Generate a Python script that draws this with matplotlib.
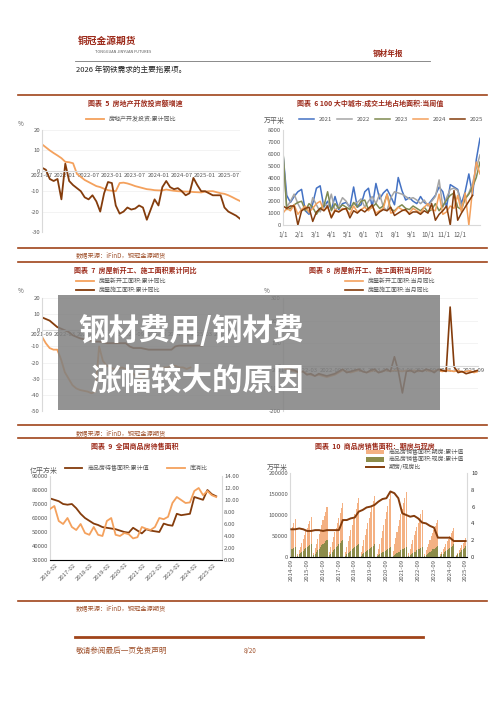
import numpy as np
import pandas as pd
import matplotlib
matplotlib.use('Agg')
import matplotlib.pyplot as plt
from matplotlib.patches import Rectangle

plt.rcParams['font.family'] = ['Noto Sans CJK SC', 'DejaVu Sans']
plt.rcParams['axes.unicode_minus'] = False

DARK = '#843C0C'
ORANGE = '#F4A15D'
BROWN = '#A0441A'
TICK = '#595959'

# ---- 图表5 房地产开发投资 (2021-07 起, 月度) ----
inv_cum = [13, 11.5, 10, 8.7, 7.5, 6.2, 4.4, 4.2, 3.7, -1.5, -3, -4.5, -5.5, -6.5, -7.5, -8,
           -8.8, -9.5, -9.8, -10, -6, -5.8, -6.2, -6.8, -7.5, -8, -8.5, -9, -9.2, -9.5, -9.6,
           -9.6, -9.2, -9.5, -9.8, -10, -10.1, -10.2, -10.2, -10.4, -10.5, -10.6, -10.2, -10,
           -10, -10.5, -11, -11.3, -12, -12.9, -13.9, -14.8]
inv_month = [1.5, 0.5, -4, -5, -4, -14, 3.5, -5, -7, -8.5, -10, -13, -14, -12, -15, -20, -11,
             -5.5, -6, -17, -21, -20, -18, -19, -18.5, -17, -18, -24, -19, -14, -17, -8, -5, -8,
             -9, -8.5, -10, -12, -11, -3.5, -7, -10, -10, -11, -12, -12, -12, -18, -20, -21,
             -22, -23.5]

# ---- 图表6 100大中城市成交土地占地面积 (周度) ----
land_years = ['2021', '2022', '2023', '2024', '2025']
land_colors = ['#4472C4', '#A5A5A5', '#7F8A50', ORANGE, DARK]
land_2021 = [6000, 2500, 1900, 2400, 2800, 3000, 1200, 900, 1800, 3100, 3300, 1500, 2000, 1300,
             2400, 1300, 1800, 1900, 1500, 3200, 1500, 1700, 2800, 3100, 1500, 3500, 2200, 2700,
             3000, 2400, 1700, 4000, 2900, 2100, 2300, 2000, 1800, 2400, 1900, 1700, 2100, 2500,
             3200, 2800, 1500, 3400, 3200, 3000, 1800, 2800, 4300, 2500, 5500, 7300]
land_2022 = [6100, 1500, 2000, 2600, 1800, 1200, 1500, 1000, 2300, 1700, 1100, 1900, 1500, 2600,
             1200, 1600, 2300, 2000, 1400, 1800, 1900, 2200, 1500, 2000, 2400, 1800, 2600, 1500,
             1200, 2300, 2800, 2700, 2600, 2400, 2200, 2300, 2100, 1800, 2100, 1600, 2000, 2400,
             3800, 1500, 2300, 3000, 3100, 2900, 1600, 2200, 2700, 3500, 4800, 5900]
land_2023 = [6200, 1300, 1400, 1700, 1900, 2000, 1200, 1800, 1500, 900, 1400, 1600, 2800, 1200,
             1800, 1400, 1700, 1500, 1300, 1900, 1500, 2000, 2100, 1300, 1500, 1800, 1400, 1600,
             2600, 1300, 1200, 1500, 1700, 1400, 1300, 1600, 1400, 1200, 1500, 1100, 1300, 1800,
             1200, 1600, 2100, 2500, 2700, 1500, 1300, 2200, 2600, 3200, 4000, 5300]
land_2024 = [1000, 1400, 1200, 1700, 900, 1300, 1600, 1100, 1400, 1800, 2000, 1200, 1500, 700,
             1300, 1100, 1400, 1300, 900, 1600, 1100, 1300, 1500, 1200, 1600, 1000, 1200, 1400,
             2600, 1000, 1100, 1500, 1300, 1200, 1000, 1400, 1200, 1000, 1500, 1800, 1300, 1200,
             2600, 900, 1100, 1600, 1400, 2500, 1100, 2700, 0, 3000, 5300, 4300]
land_2025 = [1600, 1400, 1600, 1600, 0, 1200, 1400, 1500, 300, 1100, 1400, 1200, 1600, 600, 1200,
             1100, 1300, 1400, 600, 1200, 1000, 1300, 1100, 1400, 1700, 800, 1100, 1300, 1200, 1500,
             800, 1000, 1200, 1300, 900, 1100, 1100, 900, 1200, 1000, 1800, 400, 900, 1200, 1600,
             0, 2900, 400, 1000, 1500, 2000, 2500]

# ---- 图表7 累计同比 (2021-09 起) ----
start_cum = [-4, -8, -11, -12, -12, -18, -26, -30, -34, -36, -37, -37.5, -38, -39, -38, -10,
             -19, -22, -23, -24, -24, -23, -24, -25, -27, -29, -30, -26, -24, -24, -23, -24, -23,
             -23, -22, -22, -23, -23, -24, -23]
constr_cum = [8, 7, 6, 4, 2, 1, 0, -1, -3, -4, -5, -5.5, -6, -6.5, -7, -7, -7.5, -8, -8, -8, -8,
              -8, -8, -10, -11, -11, -11, -11.5, -12, -12, -12, -12, -12, -12, -12, -10, -9.5,
              -9.5, -9.5, -9.5, -9.5, -9.5, -9.5]

# ---- 图表8 当月同比 (2021-09 起) ----
start_mon = [-10, -15, -20, -25, -30, -25, -35, -40, -45, -40, -45, -50, -45, -40, -30, -20, -25,
             -30, -25, -20, -25, -30, -25, -20, -30, -25, -20, -25, -20, -22, -25, -20, -25, -20,
             -25, -22, -20, -25, -22, -20, -25, -20, -22, -25, -20, -28, -25, -22, -30, -25]
constr_mon = [-5, -10, -15, -20, -30, -25, -40, -35, -45, -35, -40, -45, -40, -35, -25, -15, -30,
              -25, -20, -15, -25, -30, -20, -15, -30, -25, -15, -25, 40, -25, -120, -25, -20,
              -30, -20, -25, -15, -20, -30, -15, -20, -25, 260, -5, -30, -25, -35, -30, -25, -20]

# ---- 图表9 待售面积 (2016-02 起, 季度) ----
unsold = [74000, 73000, 72000, 70000, 69500, 70000, 67000, 63000, 60000, 58000, 56000, 55000,
          53500, 53000, 52500, 52000, 51000, 50000, 49500, 53000, 51000, 49000, 52000, 51000,
          50500, 50000, 56000, 55000, 54500, 63000, 62000, 62500, 63000, 75000, 74000, 73000,
          80000, 77000, 75500]
stock_ratio = [8.5, 9.0, 6.5, 6.0, 7.0, 5.5, 5.0, 6.0, 4.5, 4.2, 5.5, 4.2, 4.0, 6.5, 7.0, 4.2,
               4.0, 4.5, 4.3, 3.6, 3.8, 5.5, 5.2, 5.0, 5.5, 7.0, 6.8, 7.2, 9.5, 10.5, 10.0, 9.5,
               9.6, 11.5, 12.0, 10.8, 11.5, 10.8, 10.5]

# ---- 图表10 销售面积 期房/现房 (千 万平米, 2014-09 起; 每年2月起累计) ----
presale_k = [65, 72, 80, 90,
             8, 17, 25, 34, 44, 52, 61, 70, 78, 86, 95,
             10, 21, 32, 43, 55, 65, 76, 87, 97, 107, 118,
             11, 23, 35, 47, 59, 70, 82, 93, 105, 116, 128,
             12, 25, 38, 51, 64, 77, 90, 102, 115, 128, 141,
             13, 26, 40, 53, 67, 80, 93, 106, 120, 133, 146,
             8, 18, 32, 46, 61, 76, 91, 106, 121, 137, 153,
             15, 30, 45, 60, 75, 89, 102, 115, 128, 141, 155,
             9, 20, 30, 41, 52, 62, 72, 82, 92, 102, 112,
             8, 16, 24, 32, 41, 49, 57, 65, 73, 80, 88,
             6, 12, 18, 25, 31, 38, 44, 50, 56, 62, 68,
             5, 10, 16, 22, 28, 34, 39, 45]
ready_k = [18, 20, 22, 25,
           3, 6, 9, 12, 15, 18, 21, 24, 27, 29, 32,
           4, 8, 12, 16, 20, 24, 28, 31, 34, 37, 40,
           4, 8, 12, 16, 20, 24, 27, 31, 34, 37, 40,
           3, 6, 9, 12, 15, 18, 21, 24, 27, 29, 32,
           3, 6, 9, 11, 14, 17, 20, 22, 25, 27, 30,
           2, 4, 7, 9, 11, 13, 15, 17, 20, 22, 25,
           2, 4, 7, 9, 11, 13, 16, 18, 20, 22, 25,
           2, 4, 7, 9, 11, 13, 16, 18, 20, 22, 25,
           2, 5, 8, 10, 13, 15, 18, 20, 22, 25, 27,
           3, 6, 8, 11, 14, 17, 19, 22, 25, 27, 30,
           3, 6, 9, 13, 16, 19, 22, 26]
ps_ratio = [3.3, 3.3, 3.4, 3.3, 3.1, 3.1, 3.2, 3.2, 3.1, 3.2, 3.2, 3.2, 3.2, 4.4, 4.4, 4.6, 4.7,
            5.4, 5.6, 5.9, 6.0, 6.2, 6.6, 6.9, 7.0, 7.8, 7.6, 7.0, 5.2, 5.0, 4.8, 4.9, 4.6, 4.1,
            4.0, 3.7, 3.5, 2.3, 2.3, 2.3, 2.3, 1.9, 1.9, 1.9, 1.9]

W, H = 500, 706
fig = plt.figure(figsize=(5, 7.06), dpi=100)


def px_ax(x0, y0, x1, y1):
    return fig.add_axes([x0 / W, 1 - y1 / H, (x1 - x0) / W, (y1 - y0) / H])


def ftext(x, y, s, **kw):
    fig.text(x / W, 1 - y / H, s, **kw)


def hline(y, x0, x1, lw=1.2, color=BROWN):
    fig.add_artist(plt.Line2D([x0 / W, x1 / W], [1 - y / H, 1 - y / H], color=color, lw=lw))


def style(ax, grid=True):
    for s in ['top', 'right']:
        ax.spines[s].set_visible(False)
    ax.spines['left'].set_color('#D9D9D9')
    ax.spines['bottom'].set_color('#D9D9D9')
    ax.tick_params(labelsize=4.3, colors=TICK, length=0, pad=1.5)
    if grid:
        ax.grid(axis='y', color='#EFEFEF', lw=0.5)
    ax.set_axisbelow(True)


def month_axis(ax, start, n, step, rot=45):
    idx = pd.date_range(start, periods=n, freq='MS')
    pos = np.arange(0, n, step)
    ax.set_xticks(pos)
    ax.set_xticklabels([idx[p].strftime('%Y-%m') for p in pos], rotation=rot, fontsize=4.3)


# header
ftext(78, 44, '铜冠金源期货', fontsize=7, color='#9C2A1A', fontweight='bold')
ftext(95, 53, 'TONGGUAN JINYUAN FUTURES', fontsize=2.8, color='#555555')
ftext(373, 56, '钢材年报', fontsize=5.5, color='#9C2A1A', fontweight='bold')
hline(61, 75, 430, lw=0.6, color='#777777')
ftext(76, 72, '2026 年钢铁需求的主要拖累项。', fontsize=5.5, color='#222222')

for y in [95, 248, 262, 425, 438, 601]:
    hline(y, 18, 487)
for y in [254, 432, 607]:
    ftext(76, y + 3, '数据来源：iFinD，铜冠金源期货', fontsize=4.5, color='#A0522D')
hline(637, 75, 423, lw=2)
ftext(76, 653, '敬请参阅最后一页免责声明', fontsize=5.5, color='#A0522D', style='italic')
ftext(244, 653, '8/20', fontsize=4.5, color='#A0522D')

tkw = dict(fontsize=5, color='#9C2A1A', fontweight='bold', ha='center')
ftext(135, 106, '图表  5  房地产开放投资额增速', **tkw)
ftext(370, 106, '图表  6 100 大中城市:成交土地占地面积:当周值', **tkw)
ftext(135, 273, '图表  7  房屋新开工、施工面积累计同比', **tkw)
ftext(370, 273, '图表  8  房屋新开工、施工面积当月同比', **tkw)
ftext(135, 449, '图表  9  全国商品房待售面积', **tkw)
ftext(375, 449, '图表  10  商品房销售面积：期房与现房', **tkw)

# chart 5
ax = px_ax(42, 130, 240, 232)
style(ax)
ax.plot(inv_cum, color=ORANGE, lw=1.3, label='房地产开发投资:累计同比')
ax.plot(inv_month, color=DARK, lw=1.3)
ax.set_ylim(-30, 20)
ax.set_yticks(range(-30, 21, 10))
ax.set_xlim(0, len(inv_cum) - 1)
month_axis(ax, '2021-07', len(inv_cum), 6)
ax.spines['bottom'].set_position(('data', 0))
ax.legend(loc='lower center', bbox_to_anchor=(0.45, 1.02), fontsize=4.3, frameon=False,
          handlelength=3, labelcolor=TICK)
ax.text(-0.12, 1.04, '%', transform=ax.transAxes, fontsize=4.5, color=TICK)

# chart 6
ax = px_ax(283, 130, 480, 225)
style(ax, grid=False)
for name, vals, c in zip(land_years, [land_2021, land_2022, land_2023, land_2024, land_2025],
                         land_colors):
    ax.plot(vals, color=c, lw=1.1, label=name)
ax.set_ylim(0, 8000)
ax.set_yticks(range(0, 8001, 1000))
ax.set_xlim(0, 53)
ax.set_xticks(np.arange(12) * 52 / 12)
ax.set_xticklabels([f'{m}/1' for m in range(1, 13)], fontsize=4.5)
ax.tick_params(axis='x', pad=4)
ax.legend(loc='lower center', bbox_to_anchor=(0.55, 1.03), ncol=5, fontsize=4.3, frameon=False,
          handlelength=2.5, columnspacing=0.8, labelcolor=TICK)
ax.text(-0.1, 1.07, '万平米', transform=ax.transAxes, fontsize=5, color=TICK)

# chart 7
ax = px_ax(42, 298, 240, 411)
style(ax)
ax.plot(start_cum, color=ORANGE, lw=1.3, label='房屋新开工面积:累计同比')
ax.plot(constr_cum, color=DARK, lw=1.3, label='房屋施工面积:累计同比')
ax.set_ylim(-50, 20)
ax.set_yticks(range(-50, 21, 10))
ax.set_xlim(0, 52)
month_axis(ax, '2021-09', 53, 6)
ax.spines['bottom'].set_position(('data', 0))
ax.legend(loc='lower center', bbox_to_anchor=(0.4, 1.0), fontsize=4.3, frameon=False,
          handlelength=3, labelcolor=TICK)
ax.text(-0.12, 1.04, '%', transform=ax.transAxes, fontsize=4.5, color=TICK)

# chart 8
ax = px_ax(283, 298, 478, 411)
style(ax)
ax.plot(start_mon, color=ORANGE, lw=1.2, label='房屋新开工面积:当月同比')
ax.plot(constr_mon, color=DARK, lw=1.2, label='房屋施工面积:当月同比')
ax.set_ylim(-200, 300)
ax.set_yticks(range(-200, 301, 100))
ax.set_xlim(0, len(start_mon) - 1)
month_axis(ax, '2021-09', len(start_mon), 6)
ax.spines['bottom'].set_position(('data', 0))
ax.legend(loc='lower center', bbox_to_anchor=(0.55, 1.0), fontsize=4.3, frameon=False,
          handlelength=3, labelcolor=TICK)
ax.text(-0.1, 1.04, '%', transform=ax.transAxes, fontsize=4.5, color=TICK)

# chart 9
ax = px_ax(50, 476, 222, 560)
style(ax, grid=False)
q9 = pd.date_range('2016-02', periods=len(unsold), freq='3MS')
x9 = np.arange(len(unsold)) * 3
ax.plot(x9, unsold, color=DARK, lw=1.3, label='商品房待售面积:累计值')
ax.set_ylim(30000, 90000)
ax.set_yticks(range(30000, 90001, 10000))
ax.set_xlim(0, 118)
month_axis(ax, '2016-02', 118, 12)
ax2 = ax.twinx()
ax2.plot(np.arange(len(stock_ratio)) * 3, stock_ratio, color=ORANGE, lw=1.3, label='库消比')
ax2.set_ylim(0, 14)
ax2.set_yticks(range(0, 15, 2))
ax2.set_yticklabels([f'{v:.2f}' for v in range(0, 15, 2)])
for s in ['top', 'left']:
    ax2.spines[s].set_visible(False)
ax2.spines['right'].set_color('#D9D9D9')
ax2.tick_params(labelsize=4.3, colors=TICK, length=0, pad=1.5)
h1, l1 = ax.get_legend_handles_labels()
h2, l2 = ax2.get_legend_handles_labels()
ax.legend(h1 + h2, l1 + l2, loc='lower center', bbox_to_anchor=(0.5, 0.99), ncol=2,
          fontsize=4.3, frameon=False, handlelength=3, columnspacing=3, labelcolor=TICK)
ax.text(-0.12, 1.03, '亿平方米', transform=ax.transAxes, fontsize=5, color=TICK)

# chart 10
ax = px_ax(290, 473, 467, 557)
style(ax, grid=False)
pos10 = []
for yr in range(2014, 2026):
    months = range(9, 13) if yr == 2014 else (range(2, 10) if yr == 2025 else range(2, 13))
    for m in months:
        pos10.append((yr - 2014) * 12 + m - 9)
pos10 = np.array(pos10)
ax.bar(pos10, np.array(presale_k) * 1000, width=0.8, color='#F4B183', label='商品房销售面积:期房:累计值')
ax.bar(pos10, np.array(ready_k) * 1000, width=0.8, color='#8C8C4A', label='商品房销售面积:现房:累计值')
ax.set_ylim(0, 200000)
ax.set_yticks(range(0, 200001, 50000))
ax.set_xlim(-1, 133)
month_axis(ax, '2014-09', 133, 12, rot=90)
ax2 = ax.twinx()
ax2.plot(np.arange(len(ps_ratio)) * 3, ps_ratio, color=DARK, lw=1.4, label='期房/现房比')
ax2.set_ylim(0, 10)
ax2.set_yticks(range(0, 11, 2))
for s in ['top', 'left']:
    ax2.spines[s].set_visible(False)
ax2.spines['right'].set_color('#D9D9D9')
ax2.tick_params(labelsize=4.3, colors='#333333', length=0, pad=3)
h1, l1 = ax.get_legend_handles_labels()
h2, l2 = ax2.get_legend_handles_labels()
ax.legend(h1 + h2, l1 + l2, loc='lower left', bbox_to_anchor=(0.4, 0.97), fontsize=4.3,
          frameon=False, handlelength=3, labelspacing=0.2, labelcolor=TICK)
ax.text(-0.13, 1.03, '万平米', transform=ax.transAxes, fontsize=5, color=TICK)

# overlay banner
fig.add_artist(Rectangle((58 / W, 1 - 410 / H), 382 / W, 115 / H, transform=fig.transFigure,
                         facecolor='#808080', alpha=0.85, edgecolor='none'))
ftext(78, 340, '钢材费用/钢材费', fontsize=22, color='white', fontweight='bold')
ftext(90, 390, '涨幅较大的原因', fontsize=22, color='white', fontweight='bold')

fig.savefig('out.png', dpi=100)
